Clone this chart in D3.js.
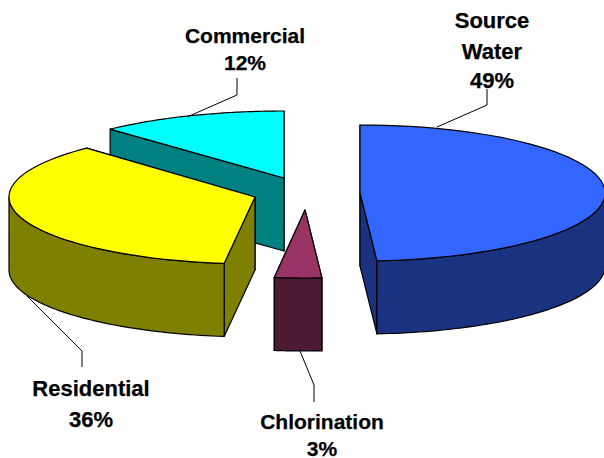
<!DOCTYPE html>
<html lang="en">
<head>
<meta charset="UTF-8">
<title>3d-pie</title>
<script src="https://cdn.jsdelivr.net/npm/d3@7"></script>
<style>
    html, body { margin: 0; padding: 0; background: #fff; overflow: hidden; }
    svg { display: block; }
    text { font-family: "Liberation Sans", Arial, sans-serif; font-weight: bold; fill: #000; stroke: #000; stroke-width: 0.25; }
</style>
</head>
<body>
<svg id="chart"></svg>
<script>
    // data (slices, labels are the rounded figures)
    var categories = ['Source Water', 'Chlorination', 'Residential', 'Commercial'];
    var values = [48.9, 3.1, 36, 12];

    // layout, one entry per slice (pie is exploded by hand in the original)
    var width = 604, height = 458;
    var depth = 73;
    var centerX = [360, 305, 255, 284];
    var centerY = [193, 210, 197, 178];
    var radiusX = [245, 245, 246, 254];
    var radiusY = [68, 68, 67, 67];
    var topColors = ['#3366ff', '#993366', '#ffff00', '#00ffff'];
    var sideColors = ['#1a3380', '#4d1a33', '#808000', '#008080'];
    var drawOrder = [3, 1, 2, 0];

    // label lines and leader lines
    var labelLines = [['Source', 'Water', '49%'], ['Chlorination', '3%'], ['Residential', '36%'], ['Commercial', '12%']];
    var labelX = [492, 322, 91, 245];
    var labelY = [[28, 59, 88], [429, 456], [396, 427], [43, 70]];
    var labelSize = [22, 21, 22, 21];
    var leaders = [
        [[437, 127], [487, 105], [487, 89]],
        [[300, 351], [314, 385], [314, 402]],
        [[27, 296], [82, 351], [82, 367]],
        [[187, 117], [237, 95], [237, 78]]
    ];

    var svg = d3.select('#chart').attr('width', width).attr('height', height);

    var pie = d3.pie().sort(null).startAngle(0).endAngle(2 * Math.PI);
    var arcs = pie(values);

    function project(i, a, drop) {
        return [
            centerX[i] + radiusX[i] * Math.sin(a),
            centerY[i] - radiusY[i] * Math.cos(a) + (drop || 0)
        ];
    }

    function arcPoints(i, a0, a1, drop) {
        return d3.range(0, 61).map(function (k) {
            return project(i, a0 + (a1 - a0) * k / 60, drop);
        });
    }

    var line = d3.line();

    function drawFace(g, points, fill) {
        g.append('path')
            .attr('d', line(points) + 'Z')
            .attr('fill', fill)
            .attr('stroke', '#000')
            .attr('stroke-width', 1.2)
            .attr('stroke-linejoin', 'round');
    }

    drawOrder.forEach(function (i) {
        var d = arcs[i];
        var g = svg.append('g').attr('class', 'slice');
        var apex = [centerX[i], centerY[i]];
        var apexDown = [centerX[i], centerY[i] + depth];

        // the two cut faces, the one further back first
        [d.startAngle, d.endAngle]
            .sort(function (a, b) { return Math.cos(b) - Math.cos(a); })
            .forEach(function (a) {
                drawFace(g, [apex, project(i, a), project(i, a, depth), apexDown], sideColors[i]);
            });

        // outer wall, only the part that faces the viewer
        var a0 = Math.max(d.startAngle, Math.PI / 2);
        var a1 = Math.min(d.endAngle, 3 * Math.PI / 2);
        if (a1 > a0) {
            drawFace(g, arcPoints(i, a0, a1).concat(arcPoints(i, a1, a0, depth)), sideColors[i]);
        }

        // top
        drawFace(g, [apex].concat(arcPoints(i, d.startAngle, d.endAngle)), topColors[i]);
    });

    // leaders
    svg.selectAll('path.leader')
        .data(leaders)
        .enter()
        .append('path')
        .attr('class', 'leader')
        .attr('d', function (d) { return line(d); })
        .attr('fill', 'none')
        .attr('stroke', '#000')
        .attr('stroke-width', 1);

    // labels
    labelLines.forEach(function (lines, i) {
        svg.selectAll('text.l' + i)
            .data(lines)
            .enter()
            .append('text')
            .attr('class', 'l' + i)
            .attr('text-anchor', 'middle')
            .attr('font-size', labelSize[i])
            .attr('x', labelX[i])
            .attr('y', function (d, k) { return labelY[i][k]; })
            .text(function (d) { return d; });
    });
</script>
</body>
</html>
